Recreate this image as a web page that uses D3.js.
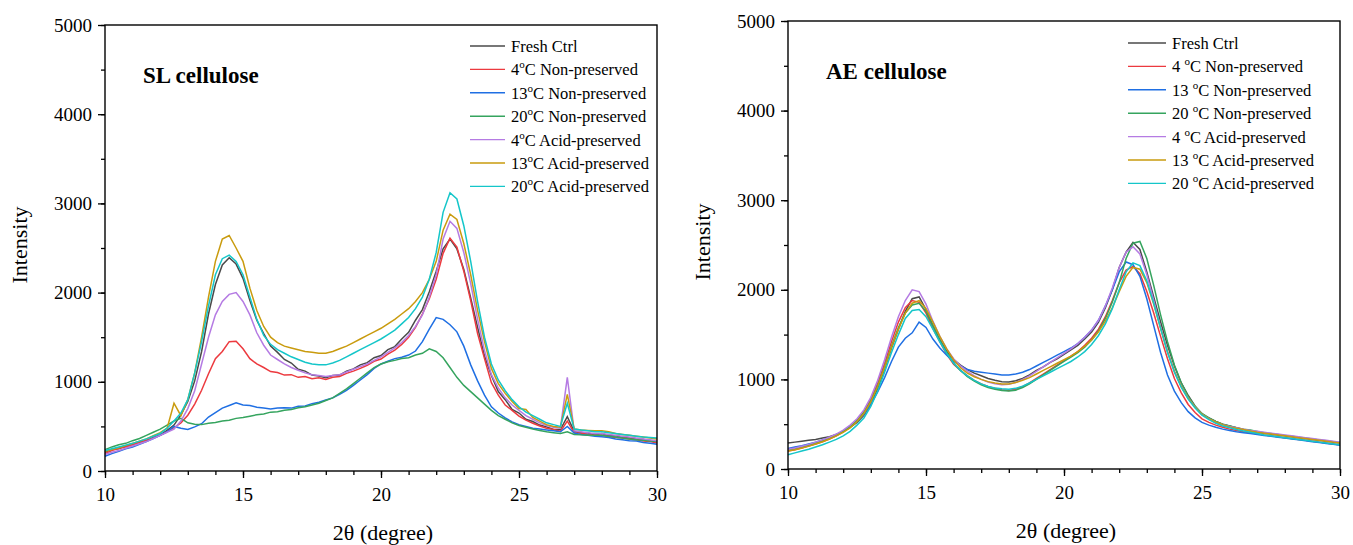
<!DOCTYPE html>
<html>
<head>
<meta charset="utf-8">
<script src="https://cdn.jsdelivr.net/npm/d3@7"></script>
<style>
  body { margin: 0; background: #fff; }
  svg text { font-family: "Liberation Serif", "Times New Roman", serif !important; fill: #000; }
</style>
</head>
<body>
<div id="chart"></div>
<script>
// 2-theta sampling grid, 10 to 30 degrees in 0.25 steps
var twoTheta = d3.range(0, 81).map(function(i) { return 10 + i * 0.25; });

var seriesNames = ["Fresh Ctrl", "4°C Non-preserved", "13°C Non-preserved", "20°C Non-preserved",
                   "4°C Acid-preserved", "13°C Acid-preserved", "20°C Acid-preserved"];
var seriesNamesAE = ["Fresh Ctrl", "4 °C Non-preserved", "13 °C Non-preserved", "20 °C Non-preserved",
                     "4 °C Acid-preserved", "13 °C Acid-preserved", "20 °C Acid-preserved"];
var seriesColors = ["#4a4a4a", "#ec3a3f", "#1f6fe3", "#35a45e", "#b57be3", "#c99b0e", "#14c6c9"];

var yTicks = [0, 1000, 2000, 3000, 4000, 5000];
var xTicks = [10, 15, 20, 25, 30];

// SL cellulose
var slFresh = [210,245,250,280,295,325,340,375,405,455,
  515,630,780,1010,1340,1760,2090,2310,2390,2320,
  2160,1910,1690,1540,1400,1330,1250,1210,1140,1120,
  1075,1065,1045,1070,1075,1120,1145,1190,1215,1270,
  1295,1360,1395,1480,1555,1690,1810,2010,2240,2490,
  2600,2490,2260,1940,1610,1290,1070,890,800,690,
  650,580,555,515,495,465,465,610,445,425,
  425,405,420,395,395,375,370,355,355,335,325];
var slNon4 = [195,230,255,270,295,320,345,370,400,440,
  485,540,625,750,905,1090,1260,1340,1450,1455,
  1370,1260,1200,1160,1115,1105,1075,1080,1050,1060,
  1035,1045,1025,1050,1060,1095,1120,1150,1185,1230,
  1255,1310,1355,1420,1500,1610,1760,1930,2150,2440,
  2610,2510,2240,1910,1540,1260,990,850,740,680,
  615,570,535,505,480,465,445,560,430,425,
  410,400,400,385,375,370,360,350,335,330,315];
var slNon13 = [165,195,220,250,270,300,330,365,400,440,
  500,480,465,495,530,605,655,705,735,765,
  740,735,715,705,695,705,710,705,725,730,
  755,770,795,820,860,905,960,1020,1080,1150,
  1200,1230,1260,1275,1300,1345,1450,1590,1720,1700,
  1640,1560,1400,1190,1010,850,720,650,595,550,
  520,500,480,470,460,450,440,500,425,410,
  400,390,385,375,360,350,340,335,320,310,300];
var slNon20 = [240,270,295,310,340,365,400,435,470,515,
  560,590,540,525,520,535,545,560,570,590,
  600,615,630,640,660,665,680,690,710,720,
  740,760,790,820,870,920,980,1040,1100,1160,
  1200,1225,1240,1260,1270,1300,1320,1370,1340,1270,
  1160,1050,960,890,820,750,680,620,580,540,
  510,490,470,455,440,430,420,440,410,405,
  400,400,400,390,380,370,360,350,345,335,330];
var slAcid4 = [185,210,230,255,280,305,330,365,400,435,
  470,560,700,900,1200,1500,1750,1900,1980,2000,
  1900,1750,1550,1410,1300,1250,1200,1160,1130,1100,
  1080,1070,1060,1070,1080,1110,1140,1170,1200,1240,
  1280,1330,1380,1440,1520,1620,1750,1950,2200,2600,
  2800,2720,2450,2100,1700,1350,1080,930,820,740,
  680,620,580,540,510,490,480,1050,450,440,
  430,420,420,410,400,390,380,370,360,350,340];
var slAcid13 = [220,240,260,285,310,335,360,395,430,480,
  760,620,800,1100,1500,1950,2350,2600,2640,2500,
  2350,2050,1800,1620,1500,1440,1400,1380,1360,1340,
  1330,1320,1320,1340,1370,1400,1440,1480,1520,1560,
  1600,1650,1700,1760,1820,1900,2000,2150,2350,2700,
  2880,2820,2550,2200,1800,1450,1150,980,870,780,
  700,690,600,560,520,500,490,860,470,460,
  455,450,450,440,420,410,400,390,380,370,360];
var slAcid20 = [230,250,270,290,310,335,360,390,420,480,
  560,650,800,1100,1450,1850,2200,2380,2420,2350,
  2200,1950,1700,1520,1420,1360,1320,1280,1250,1220,
  1200,1190,1190,1210,1240,1280,1320,1360,1400,1440,
  1480,1530,1580,1650,1720,1820,1950,2150,2450,2900,
  3120,3050,2750,2350,1900,1500,1200,1020,900,800,
  720,660,620,580,540,520,500,760,470,460,
  450,440,440,430,420,410,400,390,380,375,370];

// AE cellulose
var aeFresh = [290,300,310,320,330,345,360,385,420,465,
  520,600,720,900,1120,1350,1560,1760,1900,1920,
  1780,1600,1450,1320,1220,1160,1110,1070,1040,1010,
  990,975,970,985,1010,1050,1100,1140,1190,1230,
  1280,1330,1380,1450,1530,1640,1800,2000,2250,2420,
  2530,2450,2200,1920,1640,1380,1150,960,820,700,
  610,570,530,500,480,460,440,425,410,400,
  390,380,370,360,350,340,330,320,310,300,290];
var aeNon4 = [200,215,235,255,280,305,335,370,415,470,
  540,640,780,960,1180,1420,1640,1800,1880,1860,
  1740,1570,1420,1280,1170,1100,1040,990,950,920,
  900,885,875,890,920,960,1010,1060,1110,1160,
  1210,1260,1310,1380,1460,1560,1700,1880,2080,2220,
  2260,2180,1980,1740,1480,1230,1010,850,720,630,
  560,520,490,465,445,430,415,405,395,380,
  370,360,350,340,330,320,310,300,290,280,270];
var aeNon13 = [230,245,260,280,300,325,350,380,420,470,
  530,610,720,860,1020,1200,1360,1460,1520,1640,
  1580,1450,1350,1270,1200,1150,1110,1090,1080,1070,
  1060,1050,1050,1060,1080,1110,1150,1190,1230,1270,
  1310,1350,1400,1470,1550,1660,1820,2000,2200,2310,
  2280,2150,1900,1600,1300,1050,870,740,640,570,
  520,490,465,445,430,415,405,395,385,375,
  365,355,345,335,325,315,305,295,285,275,265];
var aeNon20 = [210,225,245,265,290,315,345,380,420,470,
  540,630,760,930,1140,1370,1580,1740,1830,1850,
  1760,1600,1440,1300,1180,1100,1030,980,940,910,
  890,875,870,880,910,950,1000,1050,1100,1150,
  1200,1250,1300,1360,1440,1540,1680,1860,2080,2350,
  2520,2540,2350,2050,1720,1420,1160,960,810,700,
  620,570,530,500,480,460,445,435,420,405,
  395,385,375,365,355,345,335,325,315,305,295];
var aeAcid4 = [220,235,255,275,300,325,355,390,435,490,
  560,660,800,990,1220,1470,1700,1880,2000,1980,
  1840,1650,1480,1340,1230,1150,1090,1040,1000,970,
  950,940,945,965,1000,1040,1090,1140,1190,1240,
  1290,1340,1400,1470,1550,1660,1820,2020,2250,2420,
  2480,2400,2170,1880,1580,1310,1090,920,790,690,
  610,560,520,495,475,460,445,430,420,410,
  400,390,380,370,360,350,340,330,320,310,300];
var aeAcid13 = [200,215,235,255,280,305,335,370,410,460,
  530,620,750,920,1130,1360,1560,1740,1850,1880,
  1790,1640,1480,1340,1220,1130,1070,1030,1000,975,
  960,950,950,965,990,1020,1060,1100,1140,1180,
  1220,1260,1310,1370,1440,1530,1650,1800,1980,2150,
  2250,2230,2080,1840,1570,1310,1090,920,790,690,
  610,560,525,495,470,455,440,425,410,400,
  390,380,370,360,350,340,330,320,310,300,290];
var aeAcid20 = [160,180,200,220,245,270,300,330,370,420,
  490,570,700,870,1080,1300,1500,1680,1770,1780,
  1700,1560,1420,1290,1180,1100,1040,990,950,920,
  905,895,890,900,925,960,1000,1040,1080,1120,
  1160,1200,1250,1310,1390,1490,1620,1790,2000,2200,
  2300,2270,2100,1850,1570,1300,1080,910,780,680,
  600,550,510,480,460,440,425,410,395,380,
  370,360,350,340,330,320,310,300,290,280,270];

var W = 1353, H = 545;
var svg = d3.select("#chart").append("svg")
    .attr("width", W)
    .attr("height", H);

function drawPanel(opts) {
    var x = d3.scaleLinear().domain([10, 30]).range([opts.left, opts.right]);
    var y = d3.scaleLinear().domain([0, 5000]).range([opts.bottom, opts.top]);
    var g = svg.append("g");

    var line = d3.line()
        .x(function(d, i) { return x(twoTheta[i]); })
        .y(function(d) { return y(d); });

    opts.series.forEach(function(s, k) {
        g.append("path")
            .attr("d", line(s))
            .attr("fill", "none")
            .attr("stroke", seriesColors[k])
            .attr("stroke-width", 1.5);
    });

    // frame
    g.append("rect")
        .attr("x", opts.left).attr("y", opts.top)
        .attr("width", opts.right - opts.left)
        .attr("height", opts.bottom - opts.top)
        .attr("fill", "none").attr("stroke", "#000").attr("stroke-width", 1.4);

    // minor ticks
    g.append("g")
        .attr("transform", "translate(0," + opts.bottom + ")")
        .call(d3.axisBottom(x).tickValues(d3.range(10, 31, 1)).tickSize(4).tickFormat(""))
        .call(function(a) { a.select(".domain").remove(); a.selectAll("line").attr("stroke-width", 1.3); });
    g.append("g")
        .attr("transform", "translate(" + opts.left + ",0)")
        .call(d3.axisLeft(y).tickValues(d3.range(0, 5001, 500)).tickSize(4).tickFormat(""))
        .call(function(a) { a.select(".domain").remove(); a.selectAll("line").attr("stroke-width", 1.3); });

    // major ticks
    var xa = g.append("g")
        .attr("transform", "translate(0," + opts.bottom + ")")
        .call(d3.axisBottom(x).tickValues(xTicks).tickSize(7).tickPadding(10).tickFormat(d3.format("d")));
    var ya = g.append("g")
        .attr("transform", "translate(" + opts.left + ",0)")
        .call(d3.axisLeft(y).tickValues(yTicks).tickSize(7).tickPadding(6).tickFormat(d3.format("d")));
    [xa, ya].forEach(function(a) {
        a.select(".domain").remove();
        a.selectAll("line").attr("stroke-width", 1.3);
        a.selectAll("text").attr("font-size", 19);
    });

    // axis titles
    g.append("text")
        .attr("x", (opts.left + opts.right) / 2 + 2).attr("y", opts.bottom + 69)
        .attr("text-anchor", "middle").attr("font-size", 22)
        .text("2θ (degree)");
    g.append("text")
        .attr("transform", "translate(" + (opts.left - 78) + "," + ((opts.top + opts.bottom) / 2 - 3) + ") rotate(-90)")
        .attr("text-anchor", "middle").attr("font-size", 22)
        .text("Intensity");

    // panel title
    g.append("text")
        .attr("x", opts.left + 38).attr("y", opts.top + 58)
        .attr("font-size", 23).attr("font-weight", "bold")
        .text(opts.title);

    // legend
    var lg = g.append("g").attr("transform", "translate(" + opts.legX + "," + opts.legY + ")");
    opts.names.forEach(function(name, k) {
        var row = lg.append("g").attr("transform", "translate(0," + (k * 23.4) + ")");
        row.append("line")
            .attr("x1", 0).attr("x2", opts.legLine)
            .attr("stroke", seriesColors[k]).attr("stroke-width", 1.4);
        var t = row.append("text")
            .attr("x", opts.legLine + 6).attr("y", 6)
            .attr("font-size", 16.5);
        var parts = name.split("°");
        t.append("tspan").text(parts[0]);
        if (parts.length > 1) {
            t.append("tspan").attr("dy", -7).attr("font-size", 11).text("o");
            t.append("tspan").attr("dy", 7).text(parts[1]);
        }
    });
}

drawPanel({
    left: 105, right: 657, top: 25, bottom: 471,
    title: "SL cellulose",
    series: [slFresh, slNon4, slNon13, slNon20, slAcid4, slAcid13, slAcid20],
    names: seriesNames,
    legX: 470, legY: 46, legLine: 35
});
drawPanel({
    left: 788, right: 1340, top: 21, bottom: 469,
    title: "AE cellulose",
    series: [aeFresh, aeNon4, aeNon13, aeNon20, aeAcid4, aeAcid13, aeAcid20],
    names: seriesNamesAE,
    legX: 1128, legY: 43, legLine: 38
});
</script>
</body>
</html>
